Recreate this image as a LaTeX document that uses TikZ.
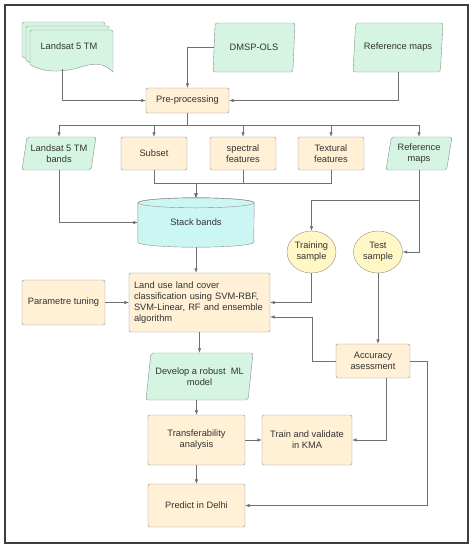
\documentclass[tikz,border=0pt]{standalone}
\usepackage{fontspec}
\setmainfont{Liberation Sans}
\usetikzlibrary{positioning}
\usetikzlibrary{shapes.geometric}
\usetikzlibrary{arrows.meta}
\definecolor{greenfill}{HTML}{D5F5E2}
\definecolor{creamfill}{HTML}{FFF0D6}
\definecolor{cyanfill}{HTML}{CBF6F4}
\definecolor{yellowfill}{HTML}{FFF8C6}
\definecolor{bordergray}{HTML}{8E8E8E}
\definecolor{linegray}{HTML}{707070}
\definecolor{textgray}{HTML}{333333}
\definecolor{framegray}{HTML}{3E3E3E}

\begin{document}
\begin{tikzpicture}[x=1pt, y=-1pt, on grid,
                    >={Latex[length=4.5pt,width=3.5pt]},
                    every node/.style={font=\fontsize{9.3}{11}\selectfont, text=textgray},
                    datanode/.style={trapezium, trapezium left angle=76, trapezium right angle=104, trapezium stretches body, draw=bordergray, fill=greenfill, rounded corners=2pt, align=center, inner sep=1pt},
                    squarednode/.style={rectangle, draw=bordergray, fill=creamfill, rounded corners=2pt, align=center, minimum width=66, minimum height=33},
                    roundnode/.style={ellipse, draw=bordergray, fill=yellowfill, align=center, minimum width=49, minimum height=42, inner sep=0pt},
                    stacknode/.style={rectangle, minimum width=116, minimum height=49, inner sep=0pt},
                    link/.style={draw=linegray, line width=0.6pt},
                ]
                \useasboundingbox (0,0) rectangle (474,550);
                \draw[draw=framegray, line width=1.6pt] (5,5) rectangle (468,543);

                %Landsat documents
                \foreach \s in {8,4,0}
                    \filldraw[draw=bordergray, fill=greenfill, shift={(-\s,-\s)}]
                        (30,64.5) [rounded corners=2pt] -- (30,30) -- (113,30) [sharp corners] -- (113,72)
                        .. controls (104,63) and (96,63) .. (84,66)
                        .. controls (66,72) and (46,74) .. (30,64.5);
                \node (lsat) at (69,46) {Landsat 5 TM};
                \coordinate (lsatfoot) at (62,69);

                %Nodes
                \node[datanode, minimum width=82, minimum height=49]    (dmsp)    at (254,47.5)   {DMSP-OLS};
                \node[datanode, minimum width=90, minimum height=49]    (refa)    at (398,47.5)   {Reference maps};
                \node[squarednode, minimum width=83, minimum height=25] (pre)     at (187.5,100.5) {Pre-processing};

                \node[squarednode]  (subset)  at (154,153.5)            {Subset};
                \node[datanode, minimum width=74, minimum height=33]    (lsb)     [left=95pt of subset]  {Landsat 5 TM\\bands};
                \node[squarednode]  (spec)    [right=89pt of subset]    {spectral\\features};
                \node[squarednode]  (text)    [right=88pt of spec]      {Textural\\features};
                \node[datanode, minimum width=66, minimum height=33]    (refb)    [right=88pt of text]   {Reference\\maps};

                \node[stacknode]    (stack)   at (196,222.5)            {};
                \node[roundnode]    (train)   at (311.5,252)            {Training\\sample};
                \node[roundnode]    (test)    [right=66.5pt of train]   {Test\\sample};

                \node[squarednode, minimum width=141, minimum height=59, text width=131, align=left] (land) at (199.5,302.5)
                    {Land use land cover\\classification using SVM-RBF,\\SVM-Linear, RF and ensemble\\algorithm};
                \node[squarednode, minimum width=83, minimum height=45] (param)   [left=136pt of land]   {Parametre tuning};
                \node[squarednode, minimum width=74, minimum height=34] (acc)     at (373,361)           {Accuracy\\asessment};
                \node[datanode, minimum width=107, minimum height=47]   (dev)     [below=74pt of land]   {Develop a robust~ ML\\model};
                \node[squarednode, minimum width=97, minimum height=50] (trans)   at (196.5,440)         {Transferability\\analysis};
                \node[squarednode, minimum width=90, minimum height=50] (kma)     [right=110.5pt of trans] {Train and validate\\in KMA};
                \node[squarednode, minimum width=97, minimum height=43] (pred)    [below=65.5pt of trans]  {Predict in Delhi};

                %Stack cylinder
                \filldraw[draw=bordergray, fill=cyanfill]
                    ([yshift=-5pt]stack.north west) -- ([yshift=5pt]stack.south west)
                    arc (180:0:58 and 5) -- ([yshift=-5pt]stack.north east)
                    arc (0:-180:58 and 5) -- cycle;
                \draw[draw=bordergray] ([yshift=-5pt]stack.north) ellipse (58 and 5);
                \node at (stack) {Stack bands};

                %Lines
                \draw[link, ->] (lsatfoot) |- (pre.west);
                \draw[link, ->] (dmsp.west) -| (pre.north);
                \draw[link, ->] (refa.south) |- (pre.east);
                \foreach \n in {lsb,subset,spec,text,refb}
                    \draw[link, ->] (pre.south) -- ++(0,12.5) -| (\n.north);
                \foreach \n in {subset,spec,text}
                    \draw[link, ->] (\n.south) -- ++(0,13) -| (stack.north);
                \draw[link, ->] (lsb.south) |- (stack.west);
                \draw[link, ->] (refb.south) -- ++(0,30) -| (train.north);
                \draw[link, ->] (refb.south) |- (test.east);
                \draw[link, ->] (stack.south) -- (stack.south |- land.north);
                \draw[link, ->] (param.east) -- (land.east -| land.west);
                \draw[link, ->] (train.south) |- (land.east);
                \draw[link, ->] (acc.west) -- ++(-24,0) |- ([yshift=-14.5pt]land.east);
                \draw[link, ->] (test.south) -- (test.south |- acc.north);
                \draw[link, ->] (land.south) -- (dev.north);
                \draw[link, ->] (trans.north |- dev.south) -- (trans.north);
                \draw[link, ->] (trans.east) -- (kma.west);
                \draw[link, ->] (trans.south) -- (pred.north);
                \draw[link, ->] ([xshift=13pt]acc.south) |- (kma.east);
                \draw[link, ->] (acc.east) -- ++(17,0) |- (pred.east);
            \end{tikzpicture}
\end{document}
